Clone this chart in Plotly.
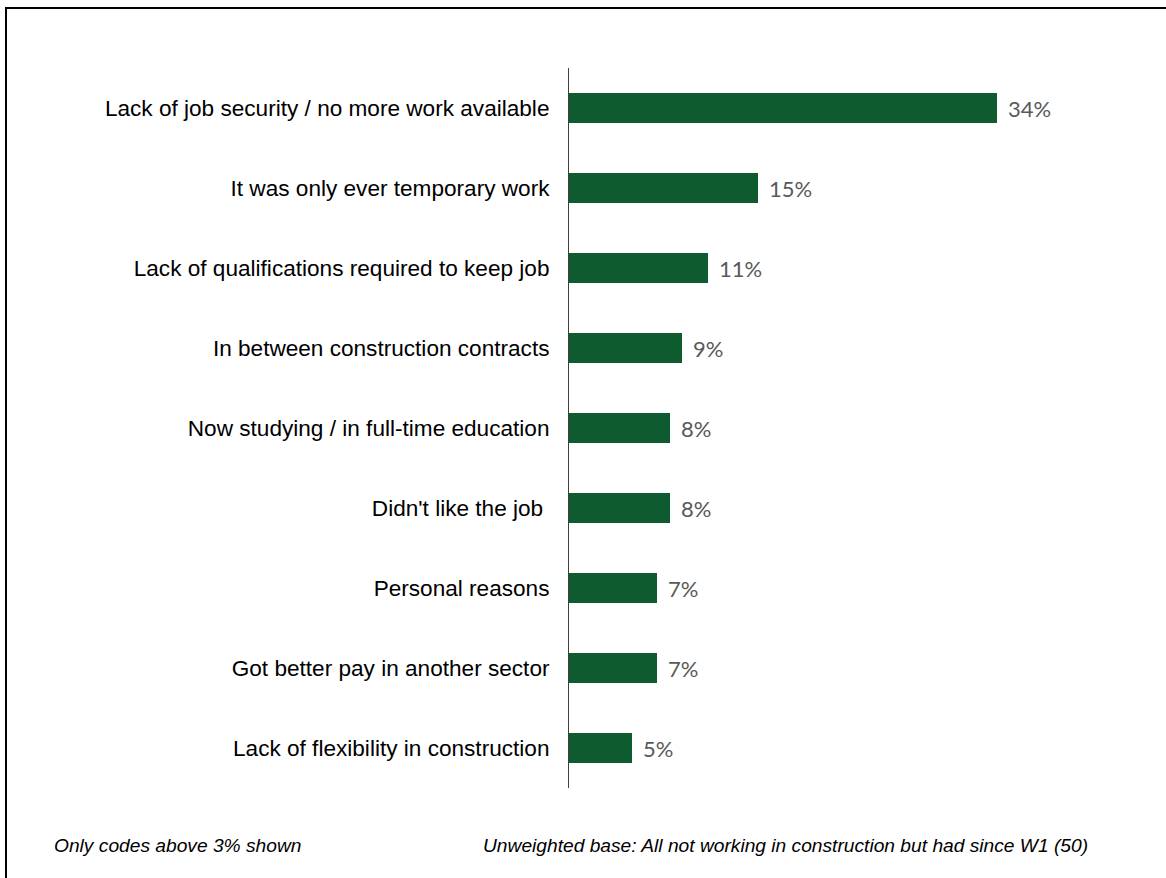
import plotly.graph_objects as go

# Reasons for leaving construction (share of respondents, %)
reasons = [
    "Lack of job security / no more work available",
    "It was only ever temporary work",
    "Lack of qualifications required to keep job",
    "In between construction contracts",
    "Now studying / in full-time education",
    "Didn't like the job\u00a0",
    "Personal reasons",
    "Got better pay in another sector",
    "Lack of flexibility in construction",
]
shares = [34, 15, 11, 9, 8, 8, 7, 7, 5]

note_left = "Only codes above 3% shown"
note_right = "Unweighted base: All not working in construction but had since W1 (50)"

W, H = 1166, 878
M_L, M_R, M_T, M_B = 569, 93, 68, 90
PW, PH = W - M_L - M_R, H - M_T - M_B


def px_x(p):
    return (p - M_L) / PW


def px_y(p):
    return (H - M_B - p) / PH


BAR = "#0d5b2f"

fig = go.Figure(
    go.Bar(
        x=shares,
        y=reasons,
        orientation="h",
        marker=dict(color=BAR, line=dict(width=0)),
        width=0.375,
        hoverinfo="skip",
    )
)

# value labels just past the end of each bar
for r, v in zip(reasons, shares):
    fig.add_annotation(
        x=v, y=r, xref="x", yref="y",
        text=f"{v}%", showarrow=False,
        xanchor="left", yanchor="middle", xshift=9,
        font=dict(family="Lato, 'Open Sans', sans-serif", size=22, color="#595959"),
    )

# footnotes
fig.add_annotation(
    x=px_x(52), y=px_y(845), xref="paper", yref="paper",
    text=f"<i>{note_left}</i>", showarrow=False,
    xanchor="left", yanchor="middle",
    font=dict(family="Liberation Sans, Arial, sans-serif", size=19.2, color="#000000"),
)
fig.add_annotation(
    x=px_x(481), y=px_y(845), xref="paper", yref="paper",
    text=f"<i>{note_right}</i>", showarrow=False,
    xanchor="left", yanchor="middle",
    font=dict(family="Liberation Sans, Arial, sans-serif", size=19.2, color="#000000"),
)

# outer frame
fig.add_shape(
    type="rect", xref="paper", yref="paper",
    x0=px_x(6), x1=px_x(W + 20), y0=px_y(H + 20), y1=px_y(8),
    line=dict(color="#000000", width=2), fillcolor="rgba(0,0,0,0)", layer="above",
)

fig.update_layout(
    width=W, height=H,
    margin=dict(l=M_L, r=M_R, t=M_T, b=M_B, pad=0),
    paper_bgcolor="white", plot_bgcolor="white",
    showlegend=False,
    bargap=0,
    xaxis=dict(
        range=[0, 40], visible=False, fixedrange=True,
    ),
    yaxis=dict(
        categoryorder="array", categoryarray=reasons, autorange="reversed",
        showline=True, linecolor="#404040", linewidth=1,
        showgrid=False, zeroline=False, ticks="",
        ticklabelstandoff=14,
        tickfont=dict(family="Liberation Sans, Arial, sans-serif", size=22.6, color="#000000"),
        fixedrange=True,
    ),
)

fig.write_html("out.html")
